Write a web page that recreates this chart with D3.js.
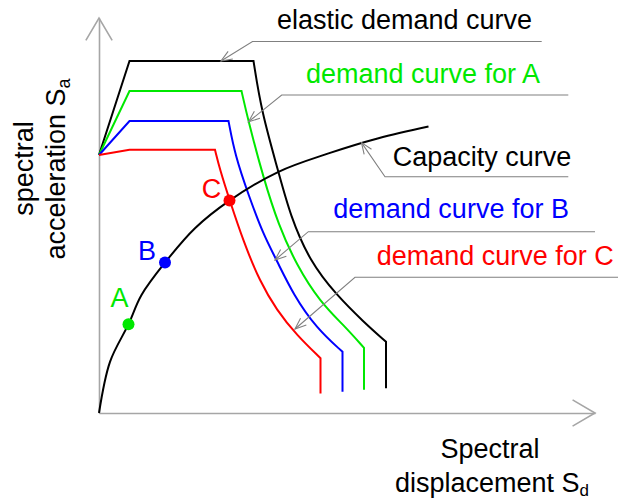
<!DOCTYPE html>
<html>
<head>
<meta charset="utf-8">
<script src="https://cdn.jsdelivr.net/npm/d3@7"></script>
<style>
  html, body { margin: 0; padding: 0; background: #fff; }
  svg { display: block; font-family: "Liberation Sans", Arial, sans-serif; }
</style>
</head>
<body>
<svg id="chart" width="618" height="499"></svg>
<script>
// Spectral displacement (x) and spectral acceleration (y), arbitrary units.
const xMax = 99.2;
const yMax = 98.75;

// Demand spectra: ramp start, plateau start, plateau end, descending branch, bottom of vertical tail
const elasticDemand = [[0, 64.5], [6.1, 88], [30.9, 88], [32.5, 75.3], [35.9, 60.3], [38.2, 49.5], [42.2, 37.8], [47.5, 29.5], [52.9, 22.8], [57.4, 17.8], [57.4, 6.2]];
const demandA = [[0, 64.5], [6.1, 80.5], [28.5, 80.5], [29.9, 72.8], [32.9, 58.7], [35.9, 47.0], [39.5, 37.0], [44.2, 27.8], [48.9, 22.0], [53.0, 16.3], [53.0, 5.8]];
const demandB = [[0, 64.5], [6.1, 73], [25.9, 73], [27.2, 64.5], [29.9, 54.5], [32.9, 44.5], [35.5, 38.3], [38.9, 29.5], [43.5, 21.2], [48.7, 15.3], [48.7, 5.3]];
const demandC = [[0, 64.5], [6.1, 65.8], [23.2, 65.8], [24.2, 60.8], [26.1, 53.3], [28.9, 42.8], [32.2, 32.8], [35.5, 25.8], [39.5, 19.5], [44.3, 13.7], [44.3, 4.9]];

// Capacity (pushover) curve
const capacityCurve = [[0, 0], [2.2, 12.8], [5.9, 22.2], [8.5, 29.5], [13.2, 37.6], [19.2, 46.2], [26.1, 53.1], [35.9, 60.3], [45.9, 64.9], [55.9, 68.7], [65.9, 71.6]];

// Performance points on the capacity curve
const pointNames = ["A", "B", "C"];
const pointValues = [[5.9, 22.2], [13.2, 37.6], [26.1, 53.1]];

// Callout captions and where their arrows touch the curves
const calloutTexts = ["elastic demand curve", "demand curve for A", "Capacity curve", "demand curve for B", "demand curve for C"];
const calloutTargets = [[24.4, 88], [29.9, 72.8], [52.5, 67.6], [35.2, 38.25], [39.2, 21.0]];

const GREEN = "#00e800", BLUE = "#0000ff", RED = "#ff0000", BLACK = "#000000";
const demandSeries = [
  { pts: elasticDemand, color: BLACK },
  { pts: demandA, color: GREEN },
  { pts: demandB, color: BLUE },
  { pts: demandC, color: RED }
];
const pointColors = [GREEN, BLUE, RED];

const svg = d3.select("#chart");
const x = d3.scaleLinear().domain([0, xMax]).range([99, 595]);
const y = d3.scaleLinear().domain([0, yMax]).range([413, 18]);

// ---- axes (no ticks, open arrowheads) ----
const axisColor = "#a6a6a6";
const gx = svg.append("g").attr("transform", `translate(0,${y(0)})`)
  .call(d3.axisBottom(x).ticks(0).tickSizeOuter(0));
const gy = svg.append("g").attr("transform", `translate(${x(0)},0)`)
  .call(d3.axisLeft(y).ticks(0).tickSizeOuter(0));
[gx, gy].forEach(g => g.select(".domain").attr("stroke", axisColor).attr("stroke-width", 1.6));

function chevron(tx, ty, angle, len, spread, color, width) {
  const a1 = angle + spread, a2 = angle - spread;
  svg.append("path")
    .attr("d", `M${tx + len * Math.cos(a1)},${ty + len * Math.sin(a1)}L${tx},${ty}L${tx + len * Math.cos(a2)},${ty + len * Math.sin(a2)}`)
    .attr("fill", "none").attr("stroke", color).attr("stroke-width", width)
    .attr("stroke-linejoin", "miter");
}
chevron(x(xMax), y(0), Math.PI, 26, 0.53, axisColor, 1.6);
chevron(x(0), y(yMax), Math.PI / 2, 26, 0.53, axisColor, 1.6);

// ---- curves ----
// Joins several line-generator pieces into one continuous path
function joinedPath(parts) {
  const p = d3.path();
  let started = false;
  const ctx = {
    moveTo(a, b) { if (started) p.lineTo(a, b); else p.moveTo(a, b); started = true; },
    lineTo(a, b) { p.lineTo(a, b); },
    bezierCurveTo(a, b, c, d, e, f) { p.bezierCurveTo(a, b, c, d, e, f); },
    closePath() {}
  };
  parts.forEach(([pts, curve]) => {
    d3.line().x(d => x(d[0])).y(d => y(d[1])).curve(curve).context(ctx)(pts);
  });
  return p.toString();
}

demandSeries.forEach(s => {
  const n = s.pts.length;
  svg.append("path")
    .attr("d", joinedPath([
      [s.pts.slice(0, 3), d3.curveLinear],
      [s.pts.slice(2, n - 1), d3.curveBasis],
      [s.pts.slice(n - 2), d3.curveLinear]
    ]))
    .attr("fill", "none").attr("stroke", s.color).attr("stroke-width", 2)
    .attr("stroke-linejoin", "miter");
});

svg.append("path")
  .attr("d", d3.line().x(d => x(d[0])).y(d => y(d[1])).curve(d3.curveCatmullRom.alpha(0.5))(capacityCurve))
  .attr("fill", "none").attr("stroke", BLACK).attr("stroke-width", 2);

// ---- performance points ----
const labelOffsets = [[-9, -17], [-18, -3], [-18, -3]];
pointValues.forEach((v, i) => {
  svg.append("circle").attr("cx", x(v[0])).attr("cy", y(v[1])).attr("r", 6).attr("fill", pointColors[i]);
  svg.append("text")
    .attr("x", x(v[0]) + labelOffsets[i][0]).attr("y", y(v[1]) + labelOffsets[i][1])
    .attr("text-anchor", "middle").attr("font-size", 27).attr("fill", pointColors[i])
    .text(pointNames[i]);
});

// ---- callouts: caption, underline leader and arrow onto the curve ----
const calloutLayout = [
  { tx: 277, ty: 28.5, elbow: [252.5, 41.5], end: 541.7, color: BLACK },
  { tx: 306, ty: 82.5, elbow: [281.7, 95], end: 568.3, color: GREEN },
  { tx: 392.7, ty: 165.7, elbow: [385, 176.7], end: 568.3, color: BLACK },
  { tx: 333.3, ty: 218.3, elbow: [308.3, 231.7], end: 595, color: BLUE },
  { tx: 376.7, ty: 265, elbow: [355, 277.3], end: 618, color: RED }
];
const leaderColor = "#808080";
calloutTexts.forEach((t, i) => {
  const L = calloutLayout[i];
  const tipX = x(calloutTargets[i][0]), tipY = y(calloutTargets[i][1]);
  svg.append("path")
    .attr("d", `M${L.end},${L.elbow[1]}L${L.elbow[0]},${L.elbow[1]}L${tipX},${tipY}`)
    .attr("fill", "none").attr("stroke", leaderColor).attr("stroke-width", 1.1);
  const ang = Math.atan2(L.elbow[1] - tipY, L.elbow[0] - tipX);
  chevron(tipX, tipY, ang, 12, 0.38, leaderColor, 1.1);
  svg.append("text")
    .attr("x", L.tx).attr("y", L.ty)
    .attr("font-size", 27).attr("fill", L.color)
    .text(t);
});

// ---- axis titles ----
const xTitle = svg.append("g");
xTitle.append("text").attr("x", 490).attr("y", 458).attr("text-anchor", "middle")
  .attr("font-size", 27).attr("fill", BLACK).text("Spectral");
const xt2 = xTitle.append("text").attr("x", 395).attr("y", 492)
  .attr("font-size", 27).attr("fill", BLACK);
xt2.append("tspan").text("displacement S");
xt2.append("tspan").attr("font-size", 17).attr("dy", 4).text("d");

const yTitle = svg.append("g");
yTitle.append("text").attr("transform", "translate(32.5,168.5) rotate(-90)")
  .attr("text-anchor", "middle").attr("font-size", 27).attr("fill", BLACK).text("spectral");
const yt2 = yTitle.append("text").attr("transform", "translate(65,169) rotate(-90)")
  .attr("text-anchor", "middle").attr("font-size", 27).attr("fill", BLACK);
yt2.append("tspan").text("acceleration S");
yt2.append("tspan").attr("font-size", 18).attr("dy", 5).text("a");
</script>
</body>
</html>
